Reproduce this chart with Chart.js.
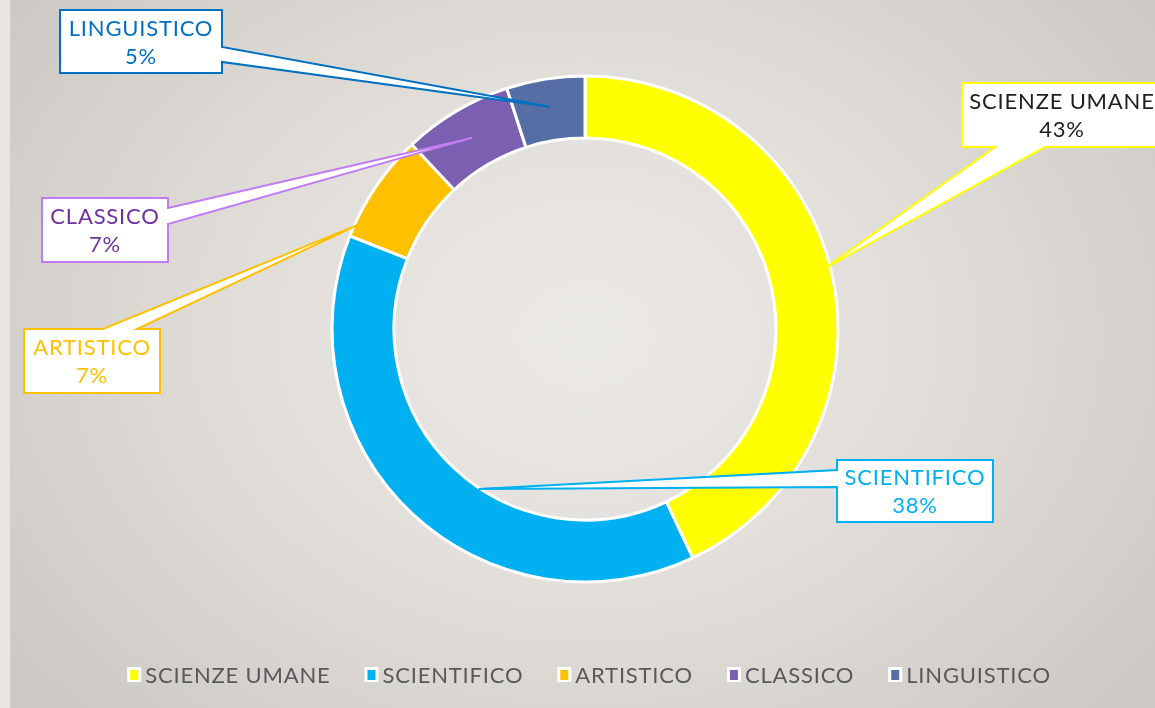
<!DOCTYPE html>
<html><head><meta charset="utf-8">
<script src="https://cdn.jsdelivr.net/npm/chart.js@4"></script>
<style>
html,body{margin:0;padding:0;width:1155px;height:708px;overflow:hidden;}
body{background: radial-gradient(ellipse 720px 560px at 585px 335px, #ebe9e6 0%, #e2dfdb 45%, #d6d2ce 75%, #ccc8c3 100%);}
#strip{position:absolute;left:0;top:0;width:10px;height:708px;background:#e7e5e2;border-right:1px solid #d2cfcb;}
#wrap{position:absolute;left:0;top:0;width:1155px;height:708px;}
</style></head>
<body><div id="strip"></div><div id="wrap"><canvas id="c" width="1155" height="708"></canvas></div>
<script>
// ---- data ----
const categories = ['SCIENZE UMANE', 'SCIENTIFICO', 'ARTISTICO', 'CLASSICO', 'LINGUISTICO'];
const percentages = [43, 38, 7, 7, 5];
const percentLabels = ['43%', '38%', '7%', '7%', '5%'];
const sliceColors = ['#ffff00', '#00b0f0', '#ffc000', '#7b5fb0', '#556ea6'];
const labelTextColors = ['#1e1e1e', '#00b0f0', '#ffc000', '#7030a0', '#0070c0'];
const calloutBorderColors = ['#ffff00', '#00b0f0', '#ffc000', '#c07cf0', '#0070c0'];

// ---- callout layout (box rect, edge where the pointer leaves, pointer base, tip position within slice) ----
const calloutLayout = [
  {L: 962, T: 83, R: 1162, B: 147, edge: 'bottom', a1: 995, a2: 1045, f: 0.49, g: 0.9},
  {L: 837, T: 460, R: 993, B: 522, edge: 'left', a1: 470, a2: 487, f: 0.43, g: 0.02},
  {L: 24, T: 329, R: 160, B: 393, edge: 'top', a1: 103, a2: 137, f: 0.12, g: 0.95},
  {L: 42, T: 198, R: 168, B: 262, edge: 'right', a1: 208, a2: 224, f: 0.5, g: 0.5},
  {L: 60, T: 10, R: 222, B: 73, edge: 'right', a1: 47, a2: 62, f: 0.5, g: 0.55}
];

const FONT = '"Lato", "Open Sans", sans-serif';

const calloutPlugin = {
  id: 'callouts',
  afterDatasetsDraw(chart) {
    const ctx = chart.ctx;
    const meta = chart.getDatasetMeta(0);
    meta.data.forEach((arc, i) => {
      const p = arc.getProps(['x', 'y', 'startAngle', 'endAngle', 'innerRadius', 'outerRadius'], true);
      const c = calloutLayout[i];
      const a = p.startAngle + c.f * (p.endAngle - p.startAngle);
      const r = p.innerRadius + c.g * (p.outerRadius - p.innerRadius);
      const tx = p.x + r * Math.cos(a), ty = p.y + r * Math.sin(a);
      let pts;
      if (c.edge === 'right') pts = [[c.L, c.T], [c.R, c.T], [c.R, c.a1], [tx, ty], [c.R, c.a2], [c.R, c.B], [c.L, c.B]];
      else if (c.edge === 'left') pts = [[c.L, c.T], [c.R, c.T], [c.R, c.B], [c.L, c.B], [c.L, c.a2], [tx, ty], [c.L, c.a1]];
      else if (c.edge === 'top') pts = [[c.L, c.T], [c.a1, c.T], [tx, ty], [c.a2, c.T], [c.R, c.T], [c.R, c.B], [c.L, c.B]];
      else pts = [[c.L, c.T], [c.R, c.T], [c.R, c.B], [c.a2, c.B], [tx, ty], [c.a1, c.B], [c.L, c.B]];
      ctx.save();
      ctx.beginPath();
      pts.forEach((q, k) => k ? ctx.lineTo(q[0], q[1]) : ctx.moveTo(q[0], q[1]));
      ctx.closePath();
      ctx.fillStyle = '#ffffff';
      ctx.fill();
      ctx.lineWidth = 2;
      ctx.lineJoin = 'miter';
      ctx.strokeStyle = calloutBorderColors[i];
      ctx.stroke();
      ctx.fillStyle = labelTextColors[i];
      ctx.font = '22px ' + FONT;
      ctx.letterSpacing = '0.8px';
      ctx.textAlign = 'center';
      ctx.textBaseline = 'middle';
      const cx = (c.L + c.R) / 2, cy = (c.T + c.B) / 2;
      ctx.fillText(categories[i], cx, cy - 13);
      ctx.fillText(percentLabels[i], cx, cy + 15);
      ctx.restore();
    });
  }
};

const legendPlugin = {
  id: 'bottomLegend',
  afterDraw(chart) {
    const ctx = chart.ctx;
    ctx.save();
    ctx.font = '22px ' + FONT;
    ctx.letterSpacing = '0.8px';
    const boxW = 14, boxGap = 4, itemGap = 34;
    const widths = categories.map(t => boxW + boxGap + ctx.measureText(t).width);
    const total = widths.reduce((s, w) => s + w, 0) + itemGap * (categories.length - 1);
    let x = 589 - total / 2;
    const y = 675;
    categories.forEach((t, i) => {
      ctx.fillStyle = '#ffffff';
      ctx.fillRect(x, y - 8, boxW, 15);
      ctx.fillStyle = sliceColors[i];
      ctx.fillRect(x + 3, y - 5, boxW - 6, 10);
      ctx.fillStyle = '#595959';
      ctx.textAlign = 'left';
      ctx.textBaseline = 'middle';
      ctx.fillText(t, x + boxW + boxGap, y + 1);
      x += widths[i] + itemGap;
    });
    ctx.restore();
  }
};

new Chart(document.getElementById('c'), {
  type: 'doughnut',
  data: {
    labels: categories,
    datasets: [{
      data: percentages,
      backgroundColor: sliceColors,
      borderColor: '#ffffff',
      borderWidth: 3
    }]
  },
  options: {
    responsive: false,
    animation: false,
    events: [],
    radius: 253,
    cutout: '75.5%',
    layout: {padding: {left: 15, right: 0, top: 0, bottom: 50}},
    plugins: {legend: {display: false}, tooltip: {enabled: false}}
  },
  plugins: [calloutPlugin, legendPlugin]
});
</script>
</body></html>
